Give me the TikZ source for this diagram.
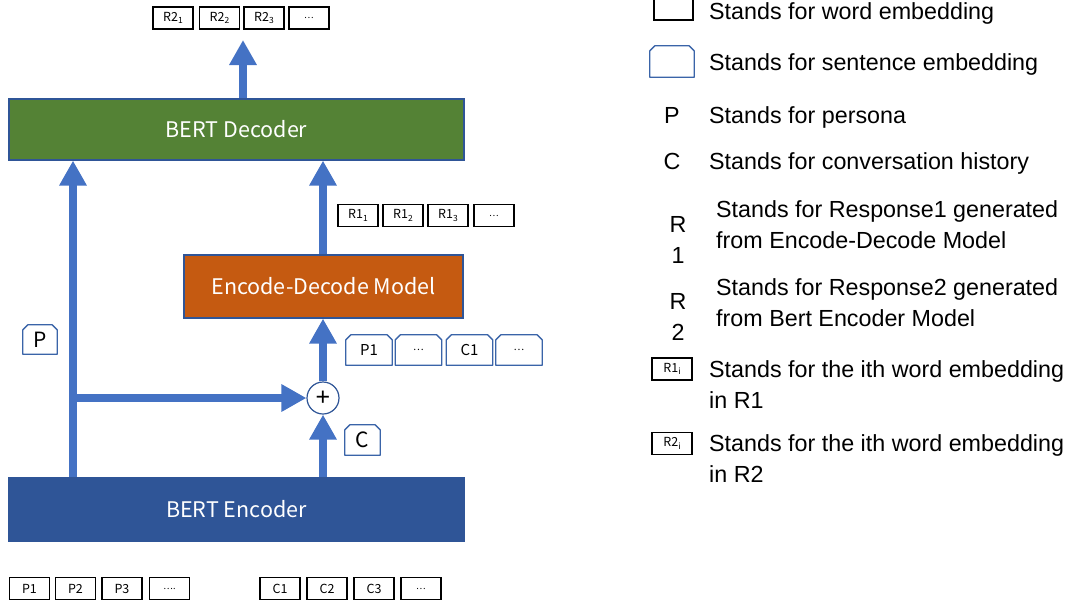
\documentclass[tikz,border=0pt]{standalone}
\usepackage{fontspec}
\setmainfont{Liberation Sans}
\newfontfamily\cjkf{Noto Sans CJK SC}
\usetikzlibrary{calc,arrows.meta}
\definecolor{arrowblue}{HTML}{4472C4}
\definecolor{edgeblue}{HTML}{2F5597}
\definecolor{sentblue}{HTML}{3A64A8}
\definecolor{decgreen}{HTML}{548235}
\definecolor{edmorange}{HTML}{C55A11}
\definecolor{encblue}{HTML}{2F5597}
\newcommand\mysub[1]{\raisebox{-2.5pt}{\fontsize{8.5}{8.5}\selectfont #1}}
\newcommand\chamf[1]{\draw[sentline] (#1.south west) -- ($(#1.north west)+(0,5)$) -- ($(#1.north west)+(5,0)$) -- ($(#1.north east)+(-5,0)$) -- ($(#1.north east)+(0,5)$) -- (#1.south east) -- cycle;}
\begin{document}
\begin{tikzpicture}[x=1pt,y=-1pt,
  wordbox/.style={draw=black, line width=1.3pt, minimum width=40pt, minimum height=22pt, inner sep=0pt, font=\cjkf\fontsize{12.5}{12.5}\selectfont},
  sentbox/.style={minimum width=46pt, minimum height=30pt, inner sep=0pt, font=\cjkf\fontsize{15}{15}\selectfont},
  sentline/.style={draw=sentblue, line width=1.3pt, line join=round},
  bigbox/.style={draw=edgeblue, line width=1.2pt, text=white, font=\cjkf\fontsize{21.5}{21.5}\selectfont, inner sep=0pt},
  arr/.style={draw=arrowblue, line width=8pt, -{Triangle[width=26pt,length=25pt]}},
  leg/.style={anchor=base west, font=\fontsize{23.3}{31}\selectfont, inner sep=0pt, align=left},
  dots/.style={font=\cjkf\fontsize{9}{9}\selectfont}
]
\useasboundingbox (0,0) rectangle (1069,608);
\clip (0,0) rectangle (1069,608);

% main blocks
\node[bigbox, fill=decgreen, minimum width=455pt, minimum height=61pt] (dec) at (236.5,129.5) {BERT Decoder};
\node[bigbox, fill=edmorange, minimum width=279pt, minimum height=63pt] (edm) at (323.5,286.5) {Encode-Decode Model};
\node[bigbox, fill=encblue, minimum width=455pt, minimum height=63pt] (enc) at (236.5,509.5) {BERT Encoder};
\node[circle, draw=edgeblue, line width=1.2pt, minimum size=32pt, inner sep=0pt, fill=white, font=\fontsize{25}{25}\selectfont] (plus) at (323,398) {+};

\coordinate (lx) at (73,0);
\coordinate (ox) at (243,40);

% connectors
\draw[arr] (lx |- enc.north) -- (lx |- dec.south);
\draw[arr] (lx |- plus) -- (plus.west);
\draw[arr] (plus |- enc.north) -- (plus.south);
\draw[arr] (plus.north) -- (plus |- edm.south);
\draw[arr] (plus |- edm.north) -- (plus |- dec.south);
\draw[arr] (ox |- dec.north) -- (ox);

% output tokens R2
\node[wordbox] (o1) at (173,18) {R2\mysub{1}};
\node[wordbox] (o2) at (219.5,18) {R2\mysub{2}};
\node[wordbox] (o3) at (264,18) {R2\mysub{3}};
\node[wordbox, dots] (o4) at (309,18) {…};

% R1 tokens
\node[wordbox] (r1) at (358,215.5) {R1\mysub{1}};
\node[wordbox] (r2) at (403,215.5) {R1\mysub{2}};
\node[wordbox] (r3) at (448,215.5) {R1\mysub{3}};
\node[wordbox, dots] (r4) at (494,215.5) {…};

% sentence embeddings
\node[sentbox] (s1) at (369,350) {P1}; \chamf{s1}
\node[sentbox] (s2) at (418.5,350) {\fontsize{10}{10}\selectfont …}; \chamf{s2}
\node[sentbox] (s3) at (469.5,350) {C1}; \chamf{s3}
\node[sentbox] (s4) at (519,350) {\fontsize{10}{10}\selectfont …}; \chamf{s4}

\node[sentbox, minimum width=34pt, minimum height=29pt, font=\cjkf\fontsize{21}{21}\selectfont] (pl) at (40,339.5) {P}; \chamf{pl}
\node[sentbox, minimum width=35pt, minimum height=30pt, font=\cjkf\fontsize{21}{21}\selectfont] (cl) at (362.5,440) {C}; \chamf{cl}

% input tokens
\node[wordbox] (i1) at (29.5,588.5) {P1};
\node[wordbox] (i2) at (75.5,588.5) {P2};
\node[wordbox] (i3) at (122,588.5) {P3};
\node[wordbox, dots] (i4) at (169.5,588.5) {….};
\node[wordbox] (i5) at (280,588.5) {C1};
\node[wordbox] (i6) at (327,588.5) {C2};
\node[wordbox] (i7) at (374,588.5) {C3};
\node[wordbox, dots] (i8) at (421,588.5) {…};

% legend
\node[draw=black, line width=1.3pt, minimum width=39pt, minimum height=28pt, inner sep=0pt] (lw) at (673.5,6) {};
\node[leg] (tw) at (709,19.5) {Stands for word embedding};
\node[sentbox, minimum width=44pt, minimum height=31pt] (ls) at (672,61.5) {}; \chamf{ls}
\node[leg] (ts) at (709,70) {Stands for sentence embedding};
\node[font=\fontsize{23.3}{31}\selectfont, anchor=base, inner sep=0pt] (lp) at (672,123) {P};
\node[leg] (tp) at (709,123) {Stands for persona};
\node[font=\fontsize{23.3}{31}\selectfont, anchor=base, inner sep=0pt] (lc) at (672,169) {C};
\node[leg] (tc) at (709,169) {Stands for conversation history};
\node[font=\fontsize{23.3}{31}\selectfont, anchor=base, inner sep=0pt, align=center] (lr1) at (678,263) {R\\1};
\node[leg, anchor=north west] (tr1) at (716,200) {Stands for Response1 generated\\from Encode-Decode Model};
\node[font=\fontsize{23.3}{31}\selectfont, anchor=base, inner sep=0pt, align=center] (lr2) at (678,340) {R\\2};
\node[leg, anchor=north west] (tr2) at (716,278) {Stands for Response2 generated\\from Bert Encoder Model};
\node[wordbox] (lr1i) at (672,369) {R1\mysub{i}};
\node[leg, anchor=north west] (ti1) at (709,360) {Stands for the ith word embedding\\in R1};
\node[wordbox] (lr2i) at (672,443.5) {R2\mysub{i}};
\node[leg, anchor=north west] (ti2) at (709,434) {Stands for the ith word embedding\\in R2};
\end{tikzpicture}
\end{document}
